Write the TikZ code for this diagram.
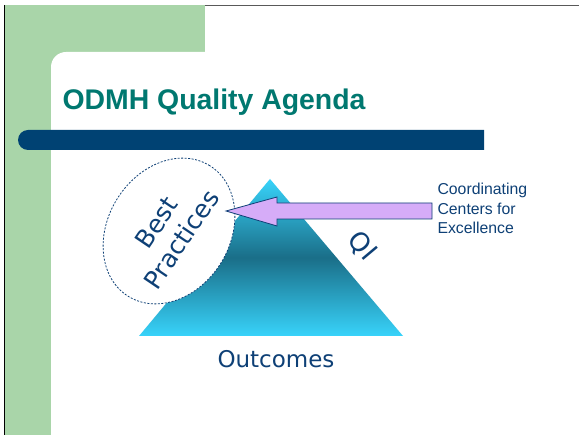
\documentclass[tikz,border=0pt]{standalone}
\usepackage{fontspec}
\setmainfont{Liberation Sans}
\newfontfamily\handfont{DejaVu Sans}
\usepackage{tikz}
\usetikzlibrary{shapes.geometric}
\definecolor{leafgreen}{RGB}{169,213,169}
\definecolor{titleteal}{RGB}{0,120,112}
\definecolor{barblue}{RGB}{0,66,115}
\definecolor{inkblue}{RGB}{14,64,118}
\definecolor{pyrcyan}{RGB}{56,211,250}
\definecolor{pyrdark}{RGB}{26,110,136}
\definecolor{lilac}{RGB}{214,172,248}

\begin{document}
\begin{tikzpicture}[x=1pt, y=-1pt,
  hand/.style={font=\handfont\fontsize{23}{27}\selectfont, text=inkblue},
  oval/.style={ellipse, draw=inkblue, fill=white, line width=0.8pt,
    dash pattern=on 2pt off 1.5pt, minimum width=154pt, minimum height=122pt}]
\useasboundingbox (0,0) rectangle (579,435);
\draw[gray!70!black, line width=1.5pt] (4,5.5)--(579,5.5);
\fill[leafgreen] (5,5) rectangle (205,435);
\fill[white, rounded corners=15pt] (51,52) rectangle (620,470);
\draw[black, line width=1.3pt] (4.5,5)--(4.5,435);
\node[anchor=base west, font=\bfseries\fontsize{28.4}{32}\selectfont, text=titleteal] (title) at (59,110) {ODMH Quality Agenda};
\fill[barblue] (484,130)--(28,130) arc[start angle=270, end angle=90, radius=10]--(484,150)--cycle;
\coordinate (apex) at (270,179);
\coordinate (left) at (139,336);
\coordinate (right) at (403,336);
\shade[top color=pyrcyan, bottom color=pyrcyan, middle color=pyrdark] (apex)--(right)--(left)--cycle;
\node[oval, rotate=58] (best) at (169,231) {};
\node[hand, rotate=56, align=center, font=\handfont\fontsize{25}{30}\selectfont] (bptext) at (best.center) {Best\\Practices};
\node[hand, rotate=-50, font=\handfont\fontsize{26}{30}\selectfont] (qi) at (362,246) {QI};
\node[hand] (outcomes) at (276,359) {Outcomes};
\node[anchor=north west, align=left, text=inkblue, font=\fontsize{15.8}{19.5}\selectfont] (cce) at (434,180) {Coordinating\\Centers for\\Excellence};
\coordinate (tip) at (226,211);
\draw[inkblue, fill=lilac, line width=0.8pt] (tip)--(277,197)--(277,203)--(432,203)--(432,219)--(277,219)--(277,226)--cycle;
\end{tikzpicture}
\end{document}
